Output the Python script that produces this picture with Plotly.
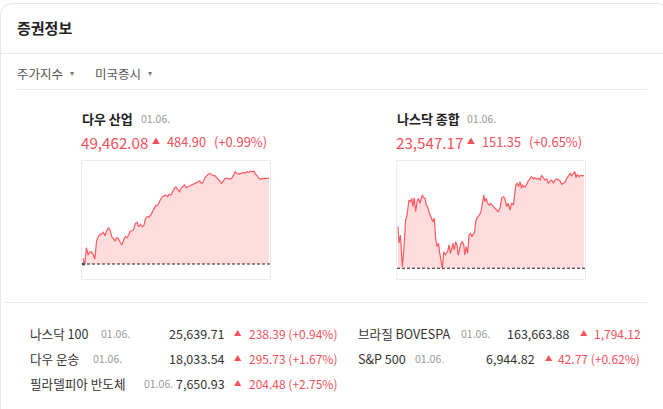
import plotly.graph_objects as go

W, H = 663, 409

# ---------------- data ----------------
dow_name = "다우 산업"
dow_date = "01.06."
dow_prev_close = 48977.18
dow_close = 49462.08
dow_change = 484.90
dow_pct = 0.99
dow_prices = [
    49009, 48971, 49070, 49028, 49045, 49047, 49032, 49005, 49105, 49133,
    49145, 49146, 49157, 49137, 49165, 49182, 49169, 49132, 49122,
    49107, 49126, 49119, 49100, 49085, 49113, 49132, 49126, 49141, 49164,
    49164, 49175, 49207, 49213, 49188, 49202, 49188, 49194, 49236, 49245,
    49243, 49254, 49270, 49292, 49307, 49307, 49330, 49345, 49358, 49364,
    49368, 49358, 49372, 49368, 49390, 49405, 49413,
    49402, 49386, 49405, 49415, 49424, 49409, 49415, 49420, 49424, 49428,
    49434, 49437, 49443, 49447, 49434, 49439, 49465, 49477, 49485, 49490,
    49485, 49477, 49477, 49465, 49458, 49443, 49434, 49447, 49462, 49462,
    49458, 49458, 49462, 49477, 49499, 49490, 49485, 49490, 49490, 49496,
    49490, 49499, 49496, 49503, 49499, 49503, 49485, 49477, 49462, 49458,
    49462.08, 49462.08, 49462.08, 49462.08, 49462.08,
]

nas_name = "나스닥 종합"
nas_date = "01.06."
nas_prev_close = 23395.82
nas_close = 23547.17
nas_change = 151.35
nas_pct = 0.65
nas_minutes = [
    0, 2, 5, 7, 9, 12, 15, 16, 19, 21, 23, 26, 29, 31, 34, 37, 40, 43, 46, 48,
    51, 54, 57, 59, 62, 65, 68, 71, 73, 76, 79, 82, 85, 87, 90, 93, 96, 99, 101, 104,
    107, 110, 113, 115, 118, 121, 124, 126, 129, 132, 135, 138, 140, 143, 146, 149, 152, 155, 157, 160,
    163, 165, 168, 171, 174, 177, 180, 182, 185, 188, 191, 194,
    197, 200, 203, 207, 210, 214, 217, 221, 224, 228, 231, 235, 238, 242, 245, 247, 250, 253,
    256, 259, 261, 264, 267, 270, 273, 277, 280, 284, 287, 291, 294, 298, 301, 305, 308, 312, 315, 319,
    322, 326, 329, 333, 336, 340, 343, 347, 350, 354, 357, 361, 364, 368, 371, 373, 376, 379, 382, 390,
]
nas_prices = [
    23463.8, 23436.7, 23450.2, 23422.9, 23398.4, 23422.9, 23458.4, 23474.7, 23482.9, 23493.9,
    23507.4, 23504.7, 23510.2, 23496.5, 23511.2, 23488.3, 23504.7, 23510.2, 23502.0, 23507.4,
    23515.6, 23511.2, 23510.2, 23499.3, 23496.5, 23488.3, 23482.9, 23474.7, 23472.0, 23477.5,
    23444.8, 23431.1, 23436.7, 23422.9, 23406.6, 23395.8, 23422.9, 23417.5, 23420.3, 23422.9,
    23433.9, 23420.3, 23428.5, 23436.7, 23425.7, 23439.3, 23432.7, 23417.5, 23425.7, 23436.7,
    23439.3, 23433.9, 23417.5, 23431.1, 23420.3, 23450.2, 23453.0, 23447.5, 23451.4, 23453.0,
    23472.0, 23477.5, 23480.1, 23482.9, 23488.3, 23499.3, 23515.6, 23504.7, 23510.2, 23502.0,
    23499.3, 23502.0,
    23499.3, 23496.5, 23493.9, 23491.1, 23488.3, 23493.9, 23510.2, 23512.8, 23510.2, 23496.5,
    23502.0, 23491.1, 23502.0, 23499.3, 23515.6, 23532.0, 23534.7, 23529.2, 23537.3, 23526.6,
    23532.0, 23529.2, 23529.2, 23534.7, 23538.5, 23542.9, 23545.5, 23541.8, 23543.9, 23541.8,
    23542.9, 23540.1, 23547.2, 23543.9, 23540.1, 23541.8, 23534.7, 23538.5, 23540.1, 23534.7,
    23540.1, 23541.8, 23540.1, 23538.5, 23533.1, 23534.7, 23536.4, 23542.9, 23547.2, 23551.1,
    23547.2, 23551.1, 23553.7, 23543.9, 23549.4, 23545.5, 23547.2, 23547.17,
]

left_names = ["나스닥 100", "다우 운송", "필라델피아 반도체"]
left_dates = ["01.06.", "01.06.", "01.06."]
left_values = ["25,639.71", "18,033.54", "7,650.93"]
left_changes = ["238.39", "295.73", "204.48"]
left_pcts = ["+0.94%", "+1.67%", "+2.75%"]

right_names = ["브라질 BOVESPA", "S&P 500"]
right_dates = ["01.06.", "01.06."]
right_values = ["163,663.88", "6,944.82"]
right_changes = ["1,794.12", "42.77"]
right_pcts = ["", "+0.62%"]

tabs = ["주가지수", "미국증시"]
title = "증권정보"

# ---------------- style / layout ----------------
FONT = "Noto Sans CJK KR, Noto Sans, sans-serif"
RED = "#f2505a"
LINE_RED = "#ff5a5f"
FILL = "#ffdcdd"
DARK = "#222222"
TXT = "#333333"
GRAY = "#999999"
BORDER = "#e6e6e6"


def X(p):
    return p / W


def Y(p):
    return 1 - p / H


fig = go.Figure()

# Dow chart
dow_x = list(range(len(dow_prices)))
fig.add_trace(go.Scatter(x=[dow_x[0], dow_x[-1]], y=[dow_prev_close, dow_prev_close],
                         mode="lines", line=dict(width=0), hoverinfo="skip",
                         showlegend=False, xaxis="x", yaxis="y"))
fig.add_trace(go.Scatter(x=dow_x, y=dow_prices, mode="lines",
                         line=dict(color=LINE_RED, width=1.2), fill="tonexty",
                         fillcolor=FILL, showlegend=False, xaxis="x", yaxis="y"))
fig.add_trace(go.Scatter(x=[dow_x[0]], y=[dow_prev_close], mode="markers",
                         marker=dict(color="#5b93e6", size=3, symbol="square"),
                         showlegend=False, xaxis="x", yaxis="y"))

# Nasdaq chart
fig.add_trace(go.Scatter(x=[nas_minutes[0], nas_minutes[-1]], y=[nas_prev_close, nas_prev_close],
                         mode="lines", line=dict(width=0), hoverinfo="skip",
                         showlegend=False, xaxis="x2", yaxis="y2"))
fig.add_trace(go.Scatter(x=nas_minutes, y=nas_prices, mode="lines",
                         line=dict(color=LINE_RED, width=1.2), fill="tonexty",
                         fillcolor=FILL, showlegend=False, xaxis="x2", yaxis="y2"))

ax = dict(visible=False, showgrid=False, zeroline=False, fixedrange=True)
fig.update_layout(
    width=W, height=H, margin=dict(l=0, r=0, t=0, b=0),
    paper_bgcolor="white", plot_bgcolor="rgba(0,0,0,0)",
    showlegend=False,
    font=dict(family=FONT, color=TXT),
    xaxis=dict(ax, domain=[X(82), X(270)], range=[-0.6, 110.6]),
    yaxis=dict(ax, domain=[Y(278), Y(161)], range=[48898, 49560]),
    xaxis2=dict(ax, domain=[X(397), X(586)], range=[-2.1, 394.2]),
    yaxis2=dict(ax, domain=[Y(278), Y(161)], range=[23379.9, 23571.2]),
)

shapes = []
# card outline (rounded top corners)
x0, y0, x1, y1, r = 0.5, 3.5, 668, 430, 12
path = (f"M {X(x0)},{Y(y0 + r)} Q {X(x0)},{Y(y0)} {X(x0 + r)},{Y(y0)} "
        f"L {X(x1 - r)},{Y(y0)} Q {X(x1)},{Y(y0)} {X(x1)},{Y(y0 + r)} "
        f"L {X(x1)},{Y(y1)} L {X(x0)},{Y(y1)} Z")
shapes.append(dict(type="path", path=path, xref="paper", yref="paper",
                   line=dict(color=BORDER, width=1), fillcolor="rgba(0,0,0,0)"))
# separators
for (a, b, yy) in [(0, 663, 53.5), (17, 647, 89.5), (4, 647, 302.5)]:
    shapes.append(dict(type="line", xref="paper", yref="paper",
                       x0=X(a), x1=X(b), y0=Y(yy), y1=Y(yy),
                       line=dict(color="#e8e8e8", width=1)))
# chart boxes
for (a, b) in [(81.5, 270.5), (396.5, 585.5)]:
    shapes.append(dict(type="rect", xref="paper", yref="paper",
                       x0=X(a), x1=X(b), y0=Y(160.5), y1=Y(279.5),
                       line=dict(color="#ececec", width=1), fillcolor="rgba(0,0,0,0)",
                       layer="below"))
# previous-close dashed lines
shapes.append(dict(type="line", xref="x domain", yref="y", x0=0, x1=1,
                   y0=dow_prev_close, y1=dow_prev_close,
                   line=dict(color=DARK, width=1, dash="3px,2px")))
shapes.append(dict(type="line", xref="x2 domain", yref="y2", x0=0, x1=1,
                   y0=nas_prev_close, y1=nas_prev_close,
                   line=dict(color=DARK, width=1, dash="3px,2px")))
fig.update_layout(shapes=shapes)

ann = []


def txt(text, x, y, size, color=TXT, anchor="left", bold=False):
    if bold:
        text = f"<b>{text}</b>"
    ann.append(dict(text=text, x=X(x), y=Y(y), xref="paper", yref="paper",
                    xanchor=anchor, yanchor="middle", showarrow=False,
                    font=dict(family=FONT, size=size, color=color)))


# header
txt(title, 15, 28, 15, DARK, bold=True)
txt(tabs[0], 15, 73, 12.5, "#555555")
txt("▾", 68, 72, 8, "#777777")
txt(tabs[1], 93, 73, 12.5, "#555555")
txt("▾", 146, 72, 8, "#777777")

# index cards
for (name, date, close, chg, pct, xl, dx, tri, chx, pcx) in [
    (dow_name, dow_date, dow_close, dow_change, dow_pct, 80, 139, 156, 165, 212),
    (nas_name, nas_date, nas_close, nas_change, nas_pct, 395, 465, 470.5, 480, 527),
]:
    txt(name, xl, 119, 13, DARK, bold=True)
    txt(date, dx, 119, 10.5, GRAY)
    txt(f"{close:,.2f}", xl - 1, 141.5, 15.2, RED)
    txt("▲", tri, 140.5, 8, RED, anchor="center")
    txt(f"{chg:,.2f}", chx, 141.5, 12.8, RED)
    txt(f"(+{pct:.2f}%)", pcx, 141.5, 13, RED)

# bottom list
left_rows = [(333, 99), (358, 91), (383, 142)]
for i, (yy, dx) in enumerate(left_rows):
    txt(left_names[i], 28, yy, 12.6, TXT)
    txt(left_dates[i], dx, yy, 10.5, GRAY)
    txt(left_values[i], 227, yy, 12.5, TXT, anchor="right")
    txt("▲", 238, yy - 1, 7.5, RED, anchor="center")
    txt(f"{left_changes[i]} ({left_pcts[i]})", 247, yy, 12, RED)

right_rows = [(333, 459, 572, 583.5, 592), (358, 413, 537, 548.5, 556)]
for i, (yy, dx, vx, tx, cx) in enumerate(right_rows):
    txt(right_names[i], 356, yy, 12.6, TXT)
    txt(right_dates[i], dx, yy, 10.5, GRAY)
    txt(right_values[i], vx, yy, 12.5, TXT, anchor="right")
    txt("▲", tx, yy - 1, 7.5, RED, anchor="center")
    ch = right_changes[i] + (f" ({right_pcts[i]})" if right_pcts[i] else "")
    txt(ch, cx, yy, 12, RED)

fig.update_layout(annotations=ann)
fig.write_html("out.html")
